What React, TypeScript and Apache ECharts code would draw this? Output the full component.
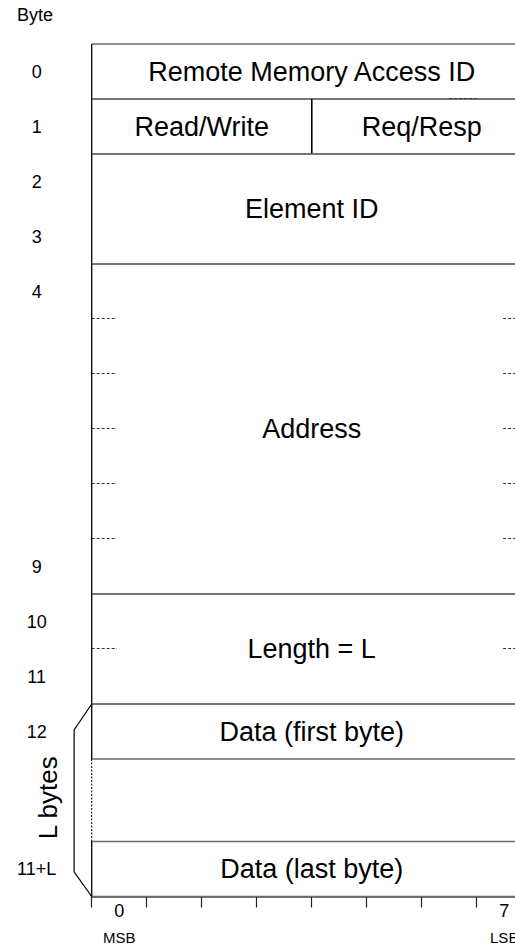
import React, { useEffect, useRef } from 'react';
import * as echarts from 'echarts';

// ---- data ----
const bitLabels = ['0', '', '', '', '', '', '', '7'];
const bitEndNames = ['MSB', '', '', '', '', '', '', 'LSB'];
const byteLabels = ['0', '1', '2', '3', '4', '9', '10', '11', '12', '11+L'];
const byteLabelRows = [0.5, 1.5, 2.5, 3.5, 4.5, 9.5, 10.5, 11.5, 12.5, 15];

const fieldNames = [
  'Remote Memory Access ID',
  'Read/Write',
  'Req/Resp',
  'Element ID',
  'Address',
  'Length = L',
  'Data (first byte)',
  'Data (last byte)',
];
const fieldBitStart = [0, 0, 4, 0, 0, 0, 0, 0];
const fieldBitEnd = [8, 4, 8, 8, 8, 8, 8, 8];
const fieldRowStart = [0, 1, 1, 2, 4, 10, 12, 14.5];
const fieldRowEnd = [1, 2, 2, 4, 10, 12, 13, 15.5];

const gapRowStart = [13];
const gapRowEnd = [14.5];

const dashRows = [1, 5, 6, 7, 8, 9, 11, 5, 6, 7, 8, 9, 11];
const dashBitStart = [6.5, 0, 0, 0, 0, 0, 0, 7.48, 7.48, 7.48, 7.48, 7.48, 7.48];
const dashBitEnd = [7, 0.46, 0.46, 0.46, 0.46, 0.46, 0.46, 8, 8, 8, 8, 8, 8];

const spanLabel = 'L bytes';
const spanRowStart = [12];
const spanRowEnd = [15.5];

const totalBits = 8;
const totalRows = 15.5;

const FONT = '"Liberation Sans", Arial, Helvetica, sans-serif';
const H_LINE = '#6c6c6c';

export default function App() {
  const ref = useRef<HTMLDivElement>(null);

  useEffect(() => {
    if (!ref.current) return;
    const chart = echarts.init(ref.current, undefined, { renderer: 'svg' });

    const option: any = {
      animation: false,
      backgroundColor: '#ffffff',
      title: {
        text: 'Byte',
        left: 17,
        top: 6,
        padding: 0,
        textStyle: { fontFamily: FONT, fontSize: 18, fontWeight: 'normal', color: '#000' },
      },
      grid: { left: 91.7, top: 44, width: 440, height: 852.5, containLabel: false, outerBoundsMode: 'none' },
      xAxis: [
        {
          type: 'category',
          data: bitLabels.map((_, i) => String(i)),
          boundaryGap: true,
          position: 'bottom',
          axisLine: { show: true, onZero: false, lineStyle: { color: '#777', width: 2 } },
          axisTick: { show: true, interval: 0, alignWithLabel: false, length: 11, lineStyle: { color: '#222', width: 1.2 } },
          axisLabel: {
            interval: 0,
            margin: 4,
            formatter: (_v: string, idx: number) =>
              bitLabels[idx] ? `{a|${bitLabels[idx]}}\n{b|${bitEndNames[idx]}}` : '',
            rich: {
              a: { fontFamily: FONT, fontSize: 18, lineHeight: 20, color: '#000' },
              b: { fontFamily: FONT, fontSize: 15, lineHeight: 34, color: '#000' },
            },
          },
          splitLine: { show: false },
        },
        { type: 'value', min: 0, max: totalBits, show: false },
      ],
      yAxis: {
        type: 'value',
        inverse: true,
        min: 0,
        max: totalRows,
        axisLine: { show: false },
        axisTick: { show: false },
        splitLine: { show: false },
        axisLabel: {
          customValues: byteLabelRows,
          formatter: (v: number) => {
            const k = byteLabelRows.indexOf(v);
            return k >= 0 ? byteLabels[k] : '';
          },
          align: 'center',
          margin: 55,
          fontFamily: FONT,
          fontSize: 18,
          color: '#000',
        },
      },
      series: [
        {
          type: 'custom',
          name: 'fields',
          xAxisIndex: 1,
          yAxisIndex: 0,
          silent: true,
          clip: false,
          data: fieldNames.map((_, i) => [fieldBitStart[i], fieldRowStart[i], fieldBitEnd[i], fieldRowEnd[i]]),
          encode: { x: [0, 2], y: [1, 3] },
          renderItem: (params: any, api: any) => {
            const i = params.dataIndex;
            const p0 = api.coord([api.value(0), api.value(1)]);
            const p1 = api.coord([api.value(2), api.value(3)]);
            return {
              type: 'group',
              children: [
                { type: 'line', shape: { x1: p0[0], y1: p0[1], x2: p1[0], y2: p0[1] }, style: { stroke: H_LINE, lineWidth: 1.6 } },
                { type: 'line', shape: { x1: p0[0], y1: p1[1], x2: p1[0], y2: p1[1] }, style: { stroke: H_LINE, lineWidth: 1.6 } },
                { type: 'line', shape: { x1: p0[0], y1: p0[1], x2: p0[0], y2: p1[1] }, style: { stroke: '#000', lineWidth: 1.3 } },
                { type: 'line', shape: { x1: p1[0], y1: p0[1], x2: p1[0], y2: p1[1] }, style: { stroke: '#000', lineWidth: 1.3 } },
                {
                  type: 'text',
                  x: (p0[0] + p1[0]) / 2,
                  y: (p0[1] + p1[1]) / 2,
                  style: {
                    text: fieldNames[i],
                    fill: '#000',
                    fontFamily: FONT,
                    fontSize: 27,
                    align: 'center',
                    verticalAlign: 'middle',
                  },
                },
              ],
            };
          },
        },
        {
          type: 'custom',
          name: 'gap',
          xAxisIndex: 1,
          yAxisIndex: 0,
          silent: true,
          clip: false,
          data: gapRowStart.map((r, i) => [0, r, gapRowEnd[i]]),
          renderItem: (_params: any, api: any) => {
            const a = api.coord([api.value(0), api.value(1)]);
            const b = api.coord([api.value(0), api.value(2)]);
            return {
              type: 'line',
              shape: { x1: a[0], y1: a[1], x2: b[0], y2: b[1] },
              style: { stroke: '#000', lineWidth: 1, lineDash: [2, 1.5] },
            };
          },
        },
        {
          type: 'custom',
          name: 'dashes',
          xAxisIndex: 1,
          yAxisIndex: 0,
          silent: true,
          clip: false,
          data: dashRows.map((r, i) => [dashBitStart[i], r, dashBitEnd[i]]),
          renderItem: (_params: any, api: any) => {
            const a = api.coord([api.value(0), api.value(1)]);
            const b = api.coord([api.value(2), api.value(1)]);
            return {
              type: 'line',
              shape: { x1: a[0], y1: a[1] - 0.5, x2: b[0], y2: b[1] - 0.5 },
              style: { stroke: '#333', lineWidth: 1, lineDash: [3, 2] },
            };
          },
        },
        {
          type: 'custom',
          name: 'span',
          xAxisIndex: 1,
          yAxisIndex: 0,
          silent: true,
          clip: false,
          data: spanRowStart.map((r, i) => [r, spanRowEnd[i]]),
          renderItem: (_params: any, api: any) => {
            const r0 = api.value(0);
            const r1 = api.value(1);
            const pts = [
              api.coord([0, r0]),
              api.coord([-0.32, r0 + 0.47]),
              api.coord([-0.32, r1 - 0.45]),
              api.coord([0, r1]),
            ];
            const c = api.coord([-0.8, (r0 + r1) / 2]);
            return {
              type: 'group',
              children: [
                { type: 'polyline', shape: { points: pts }, style: { stroke: '#000', lineWidth: 1.2, fill: 'none' } },
                {
                  type: 'text',
                  x: c[0],
                  y: c[1] - 2.5,
                  rotation: Math.PI / 2,
                  style: {
                    text: spanLabel,
                    fill: '#000',
                    fontFamily: FONT,
                    fontSize: 26,
                    align: 'center',
                    verticalAlign: 'middle',
                  },
                },
              ],
            };
          },
        },
      ],
    };

    chart.setOption(option);
    return () => chart.dispose();
  }, []);

  return (
    <div
      ref={ref}
      style={{ position: 'absolute', left: 0, top: 0, width: 515, height: 947, background: '#fff' }}
    />
  );
}
